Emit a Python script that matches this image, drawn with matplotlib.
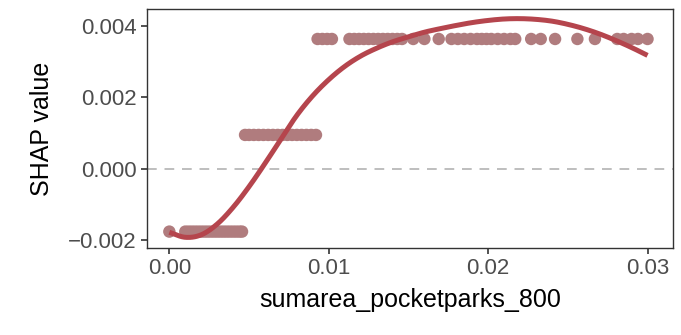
import matplotlib.pyplot as plt
import numpy as np

plt.rcParams['font.family'] = ['Liberation Sans', 'DejaVu Sans']

# SHAP dependence points (three plateaus)
x_low = [0.0, 0.0010, 0.0012, 0.0014, 0.0016, 0.0018, 0.0020, 0.0022, 0.0024,
         0.0026, 0.0028, 0.0030, 0.0032, 0.0034, 0.0036, 0.0038, 0.0040,
         0.0042, 0.0044, 0.00456]
y_low = -0.00176

x_mid = [0.00475, 0.0050, 0.0053, 0.0056, 0.0059, 0.0062, 0.0065, 0.0068,
         0.0071, 0.0074, 0.0077, 0.0080, 0.0083, 0.0086, 0.0089, 0.0092]
y_mid = 0.00095

x_high = [0.0093, 0.0096, 0.0099, 0.0102, 0.0113, 0.0116, 0.0119, 0.0122,
          0.0125, 0.0128, 0.0131, 0.0134, 0.0137, 0.0140, 0.0143, 0.0146,
          0.0153, 0.0160, 0.0169, 0.0177, 0.0181, 0.0185, 0.0189, 0.0193,
          0.0196, 0.0199, 0.0202, 0.0206, 0.0210, 0.0214, 0.0217, 0.0227,
          0.0233, 0.0242, 0.0256, 0.0267, 0.0281, 0.0285, 0.0290, 0.0294,
          0.0300]
y_high = 0.00364

# smoothed trend
x_fit = [0.000, 0.001, 0.002, 0.003, 0.004, 0.005, 0.006, 0.007, 0.008,
         0.009, 0.010, 0.011, 0.012, 0.013, 0.014, 0.015, 0.016, 0.017,
         0.018, 0.019, 0.020, 0.021, 0.022, 0.023, 0.024, 0.025, 0.026,
         0.027, 0.028, 0.029, 0.030]
y_fit = [-0.00178, -0.00192, -0.00185, -0.00155, -0.00108, -0.00050,
         0.00015, 0.00083, 0.00150, 0.00205, 0.00250, 0.00287, 0.00316,
         0.00338, 0.00356, 0.00370, 0.00383, 0.00393, 0.00402, 0.00410,
         0.00416, 0.00420, 0.00421, 0.00419, 0.00414, 0.00405, 0.00393,
         0.00378, 0.00360, 0.00340, 0.00318]


def catmull_rom(px, py, n=20):
    px = np.r_[2 * px[0] - px[1], px, 2 * px[-1] - px[-2]]
    py = np.r_[2 * py[0] - py[1], py, 2 * py[-1] - py[-2]]
    t = np.linspace(0, 1, n, endpoint=False)[:, None]
    out = []
    for arr in (px, py):
        p0, p1, p2, p3 = arr[:-3], arr[1:-2], arr[2:-1], arr[3:]
        seg = 0.5 * (2 * p1 + (-p0 + p2) * t + (2 * p0 - 5 * p1 + 4 * p2 - p3) * t ** 2
                     + (-p0 + 3 * p1 - 3 * p2 + p3) * t ** 3)
        out.append(np.r_[seg.T.ravel(), arr[-2]])
    return out


fig = plt.figure(figsize=(6.81, 3.35), dpi=100)
ax = fig.add_axes([0.2159, 0.2597, 0.7724, 0.7134])

pt_col = '#B07C7E'
ax.axhline(0, color='#BEBEBE', lw=1.4, ls=(0, (5, 4)), zorder=1)
for xs, yv in [(x_low, y_low), (x_mid, y_mid), (x_high, y_high)]:
    ax.scatter(xs, [yv] * len(xs), s=80, color=pt_col, edgecolors='none', zorder=2)

cx, cy = catmull_rom(np.array(x_fit), np.array(y_fit))
ax.plot(cx, cy, color='#B5454D', lw=3.6, solid_capstyle='butt', zorder=3)

ax.set_xlim(-0.0014, 0.0316)
ax.set_ylim(-0.00222, 0.00448)
ax.set_xticks([0.0, 0.01, 0.02, 0.03])
ax.set_xticklabels(['0.00', '0.01', '0.02', '0.03'])
ax.set_yticks([-0.002, 0.0, 0.002, 0.004])
ax.set_yticklabels(['\u22120.002', '0.000', '0.002', '0.004'])
ax.tick_params(labelsize=16, labelcolor='#4D4D4D', color='#333333',
               length=4, width=1.2)
for s in ax.spines.values():
    s.set_color('#333333')
    s.set_linewidth(1.0)
ax.set_xlabel('sumarea_pocketparks_800', fontsize=18, labelpad=6)
ax.set_ylabel('SHAP value', fontsize=18, labelpad=10)

fig.savefig('out.png', dpi=100)
